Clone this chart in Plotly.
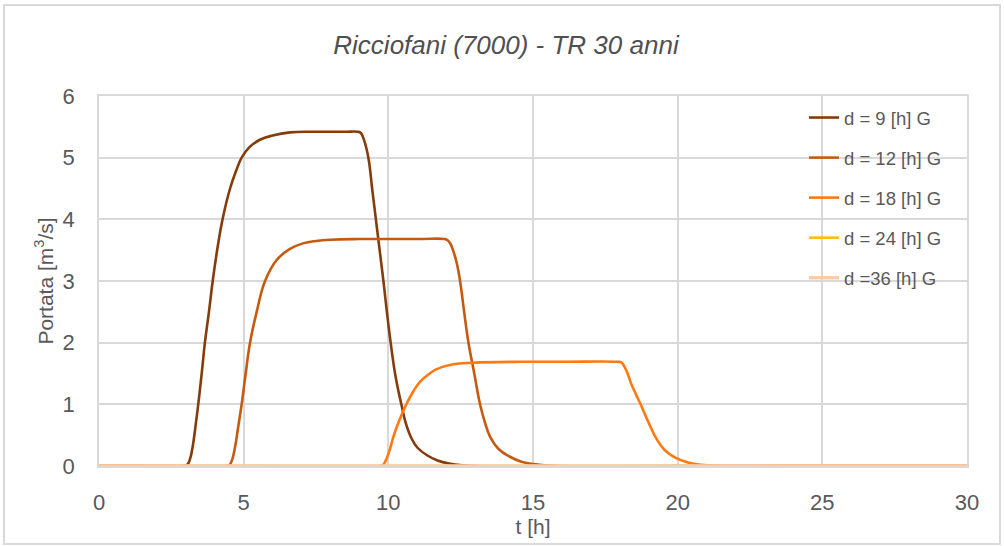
import plotly.graph_objects as go

# ---- data ----
names = ["d = 9 [h] G", "d = 12 [h] G", "d = 18 [h] G", "d = 24 [h] G", "d =36 [h] G"]
colors = ["#843C0C", "#C55A11", "#FF7A12", "#FFC000", "#F8CBAD"]

t_9 = [0, 1.5, 2.9, 3.05, 3.15, 3.25, 3.35, 3.43, 3.55, 3.66, 3.8, 3.93, 4.1, 4.27, 4.53,
       4.75, 4.93, 5.2, 5.56, 6.0, 6.6, 7.5, 8.5, 8.95, 9.05, 9.15, 9.31, 9.44, 9.57, 9.7,
       9.83, 9.95, 10.08, 10.25, 10.45, 10.6, 10.8, 11.0, 11.35, 11.7, 12.1, 12.6, 13.0,
       20.0, 30]
q_9 = [0, 0, 0, 0.02, 0.12, 0.35, 0.7, 1.0, 1.5, 2.0, 2.5, 3.0, 3.55, 4.0, 4.5,
       4.8, 5.0, 5.17, 5.29, 5.36, 5.41, 5.42, 5.42, 5.42, 5.4, 5.3, 5.0, 4.5, 4.0, 3.5,
       3.0, 2.5, 2.0, 1.45, 1.0, 0.7, 0.45, 0.3, 0.17, 0.09, 0.04, 0.01, 0,
       0, 0]

t_12 = [0, 2.5, 4.4, 4.5, 4.6, 4.7, 4.8, 4.93, 5.07, 5.22, 5.45, 5.74, 6.14, 6.6, 7.05,
        7.5, 8.0, 9.0, 11.0, 11.95, 12.05, 12.15, 12.25, 12.36, 12.48, 12.62, 12.77,
        12.97, 13.17, 13.33, 13.51, 13.8, 14.2, 14.6, 15.0, 15.5, 16.0, 23.0, 30]
q_12 = [0, 0, 0, 0.01, 0.1, 0.3, 0.6, 1.0, 1.5, 2.0, 2.5, 3.0, 3.34, 3.52, 3.61,
        3.65, 3.67, 3.68, 3.68, 3.68, 3.66, 3.6, 3.48, 3.3, 3.0, 2.5, 2.0,
        1.5, 1.0, 0.72, 0.48, 0.28, 0.15, 0.07, 0.03, 0.01, 0, 0, 0]

t_18 = [0, 5.0, 9.7, 9.8, 9.9, 10.02, 10.13, 10.25, 10.45, 10.62, 10.85, 11.1, 11.4,
        11.67, 12.24, 12.93, 14.55, 16.0, 17.9, 18.05, 18.15, 18.27, 18.39, 18.55,
        18.72, 19.0, 19.27, 19.55, 19.9, 20.2, 20.5, 20.9, 21.5, 25.0, 30]
q_18 = [0, 0, 0, 0.01, 0.08, 0.22, 0.4, 0.58, 0.82, 1.0, 1.2, 1.37, 1.49,
        1.57, 1.65, 1.675, 1.69, 1.69, 1.69, 1.68, 1.62, 1.5, 1.34, 1.17,
        1.0, 0.7, 0.44, 0.26, 0.14, 0.08, 0.04, 0.015, 0, 0, 0]

t_24 = [0, 30]
q_24 = [0, 0]
t_36 = [0, 30]
q_36 = [0, 0]

x_ticks = [0, 5, 10, 15, 20, 25, 30]
y_ticks = [0, 1, 2, 3, 4, 5, 6]

series_t = [t_9, t_12, t_18, t_24, t_36]
series_q = [q_9, q_12, q_18, q_24, q_36]
widths = [2.6, 2.6, 2.6, 2.6, 3.4]

FONT = "Liberation Sans, Arial, sans-serif"
TXT = "#595959"
GRID = "#D9D9D9"

fig = go.Figure()
for i in range(5):
    fig.add_trace(go.Scatter(
        x=series_t[i], y=series_q[i], mode="lines", name=names[i],
        legendgroup=str(i),
        line=dict(color=colors[i], width=widths[i], shape="spline", smoothing=1.2),
        hoverinfo="skip",
    ))

L, R, T, B = 99, 37, 96, 80
W, H = 1004, 546
pw, ph = W - L - R, H - T - B

def px_x(p):
    return (p - L) / pw

def px_y(p):
    return (H - B - p) / ph

fig.update_layout(
    width=W, height=H,
    margin=dict(l=L, r=R, t=T, b=B, autoexpand=False),
    paper_bgcolor="white", plot_bgcolor="white",
    font=dict(family=FONT, color=TXT),
    title=dict(text="<i>Ricciofani (7000) - TR 30 anni</i>",
               font=dict(family=FONT, size=26, color="#505050"),
               x=506 / W, xanchor="center", y=1 - 45 / H, yanchor="middle"),
    showlegend=True,
    legend=dict(x=px_x(804), y=px_y(99), xanchor="left", yanchor="top",
                bgcolor="rgba(0,0,0,0)", font=dict(family=FONT, size=18.5, color=TXT),
                tracegroupgap=13),
    xaxis=dict(range=[0, 30], tickvals=x_ticks, showgrid=True, gridcolor=GRID, gridwidth=1.5,
               zeroline=False, showline=True, linecolor=GRID, linewidth=1.5, mirror=True,
               ticks="", ticklabelstandoff=16,
               tickfont=dict(family=FONT, size=22, color=TXT),
               title=dict(text="t [h]", font=dict(family=FONT, size=21, color=TXT), standoff=5)),
    yaxis=dict(range=[0, 6], tickvals=y_ticks, showgrid=True, gridcolor=GRID, gridwidth=1.5,
               zeroline=False, showline=True, linecolor=GRID, linewidth=1.5, mirror=True,
               ticks="", ticklabelstandoff=18,
               tickfont=dict(family=FONT, size=22, color=TXT),
               title=dict(text="Portata [m<sup>3</sup>/s]", font=dict(family=FONT, size=21, color=TXT),
                          standoff=3)),
    shapes=[dict(type="rect", xref="paper", yref="paper",
                 x0=px_x(4), x1=px_x(1000), y0=px_y(544), y1=px_y(5),
                 line=dict(color=GRID, width=2), fillcolor="rgba(0,0,0,0)", layer="below")],
)

fig.write_html("out.html")
